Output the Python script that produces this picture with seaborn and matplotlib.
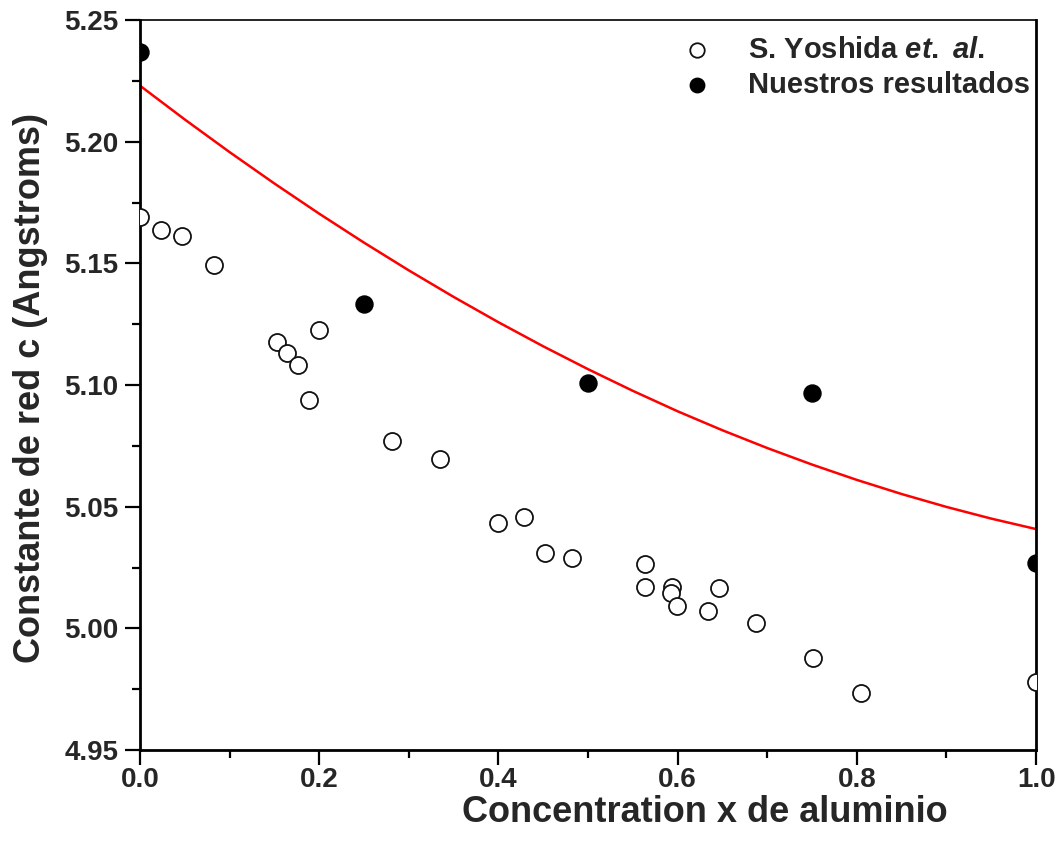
import matplotlib
matplotlib.use("Agg")
import matplotlib.pyplot as plt
from matplotlib.ticker import MultipleLocator, FormatStrFormatter
import seaborn as sns
import pandas as pd

# Lattice constant c for Al_x In_(1-x) N -- published values
yoshida_x = [0.0, 0.0234, 0.0469, 0.0826, 0.1529, 0.1641, 0.1763, 0.1886, 0.1998,
             0.2813, 0.3348, 0.3996, 0.4286, 0.4520, 0.4821, 0.5636, 0.5636, 0.5938,
             0.5926, 0.5993, 0.6339, 0.6462, 0.6875, 0.7511, 0.8047, 1.0]
yoshida_c = [5.169, 5.1637, 5.1612, 5.1493, 5.1177, 5.1131, 5.1082, 5.0938, 5.1226,
             5.0770, 5.0696, 5.0433, 5.0457, 5.0309, 5.0289, 5.0264, 5.0170, 5.0170,
             5.0145, 5.0091, 5.0071, 5.0165, 5.0022, 4.9878, 4.9734, 4.9779]

# Our calculated values
nuestros_x = [0.0, 0.25, 0.5, 0.75, 1.0]
nuestros_c = [5.237, 5.1335, 5.101, 5.0967, 5.027]

# Fitted trend curve
ajuste_x = [0.00, 0.05, 0.10, 0.15, 0.20, 0.25, 0.30, 0.35, 0.40, 0.45, 0.50,
            0.55, 0.60, 0.65, 0.70, 0.75, 0.80, 0.85, 0.90, 0.95, 1.00]
ajuste_c = [5.2230, 5.2091, 5.1957, 5.1828, 5.1704, 5.1585, 5.1471, 5.1362, 5.1258,
            5.1159, 5.1065, 5.0976, 5.0892, 5.0814, 5.0741, 5.0673, 5.0610, 5.0552,
            5.0499, 5.0451, 5.0408]

x_ticks = [0.0, 0.2, 0.4, 0.6, 0.8, 1.0]
y_ticks = [4.95, 5.00, 5.05, 5.10, 5.15, 5.20, 5.25]

sns.set_theme(style="white")
plt.rcParams["font.family"] = ["Liberation Sans", "DejaVu Sans"]
plt.rcParams["mathtext.fontset"] = "custom"
plt.rcParams["mathtext.it"] = "Liberation Sans:bold:italic"
plt.rcParams["mathtext.rm"] = "Liberation Sans:bold"

fig = plt.figure(figsize=(10.57, 8.52), dpi=100)
ax = fig.add_axes([0.1325, 0.1197, 0.8477, 0.8568])

df_y = pd.DataFrame({"x": yoshida_x, "c": yoshida_c})
df_n = pd.DataFrame({"x": nuestros_x, "c": nuestros_c})
df_a = pd.DataFrame({"x": ajuste_x, "c": ajuste_c})

sns.lineplot(data=df_a, x="x", y="c", color="#ff0000", linewidth=1.8, ax=ax,
             legend=False, zorder=2)
sns.scatterplot(data=df_y, x="x", y="c", s=150, facecolor="white", edgecolor="#111111",
                linewidth=1.3, ax=ax, label="S. Yoshida $\\it{et.}$ $\\it{al.}$", zorder=3)
sns.scatterplot(data=df_n, x="x", y="c", s=150, color="black", edgecolor="black",
                linewidth=1.0, ax=ax, label="Nuestros resultados", zorder=3)

ax.set_xlim(0.0, 1.0)
ax.set_ylim(4.95, 5.25)
ax.set_xticks(x_ticks)
ax.set_yticks(y_ticks)
ax.xaxis.set_minor_locator(MultipleLocator(0.1))
ax.yaxis.set_minor_locator(MultipleLocator(0.025))
ax.xaxis.set_major_formatter(FormatStrFormatter("%.1f"))
ax.yaxis.set_major_formatter(FormatStrFormatter("%.2f"))

ax.tick_params(which="major", direction="out", length=10.5, width=1.6,
               labelsize=20, color="black")
ax.tick_params(axis="x", which="major", pad=2)
ax.tick_params(axis="y", which="major", pad=5)
ax.tick_params(which="minor", direction="out", length=6, width=1.6, color="black")
ax.tick_params(axis="both", which="both", bottom=True, left=True, top=False, right=False)
for lab in ax.get_xticklabels() + ax.get_yticklabels():
    lab.set_fontweight("bold")

for side in ["left", "bottom", "right"]:
    ax.spines[side].set_linewidth(2.0)
    ax.spines[side].set_color("black")
ax.spines["top"].set_linewidth(1.2)
ax.spines["top"].set_color("black")

ax.set_xlabel("Concentration x de aluminio", fontsize=26, fontweight="bold")
ax.set_ylabel("Constante de red c (Angstroms)", fontsize=26, fontweight="bold")
ax.xaxis.set_label_coords(0.63, -0.086)
ax.xaxis.label.set_va("center")
ax.yaxis.set_label_coords(-0.1228, 0.496)
ax.yaxis.label.set_va("center")

leg = ax.legend(loc="upper right", frameon=False, fontsize=21, handletextpad=0.75,
                borderaxespad=0.1, borderpad=0.3, labelspacing=0.24, markerscale=0.85,
                bbox_to_anchor=(1.006, 0.994))
for t in leg.get_texts():
    t.set_fontweight("bold")

fig.savefig("out.png", dpi=100)
